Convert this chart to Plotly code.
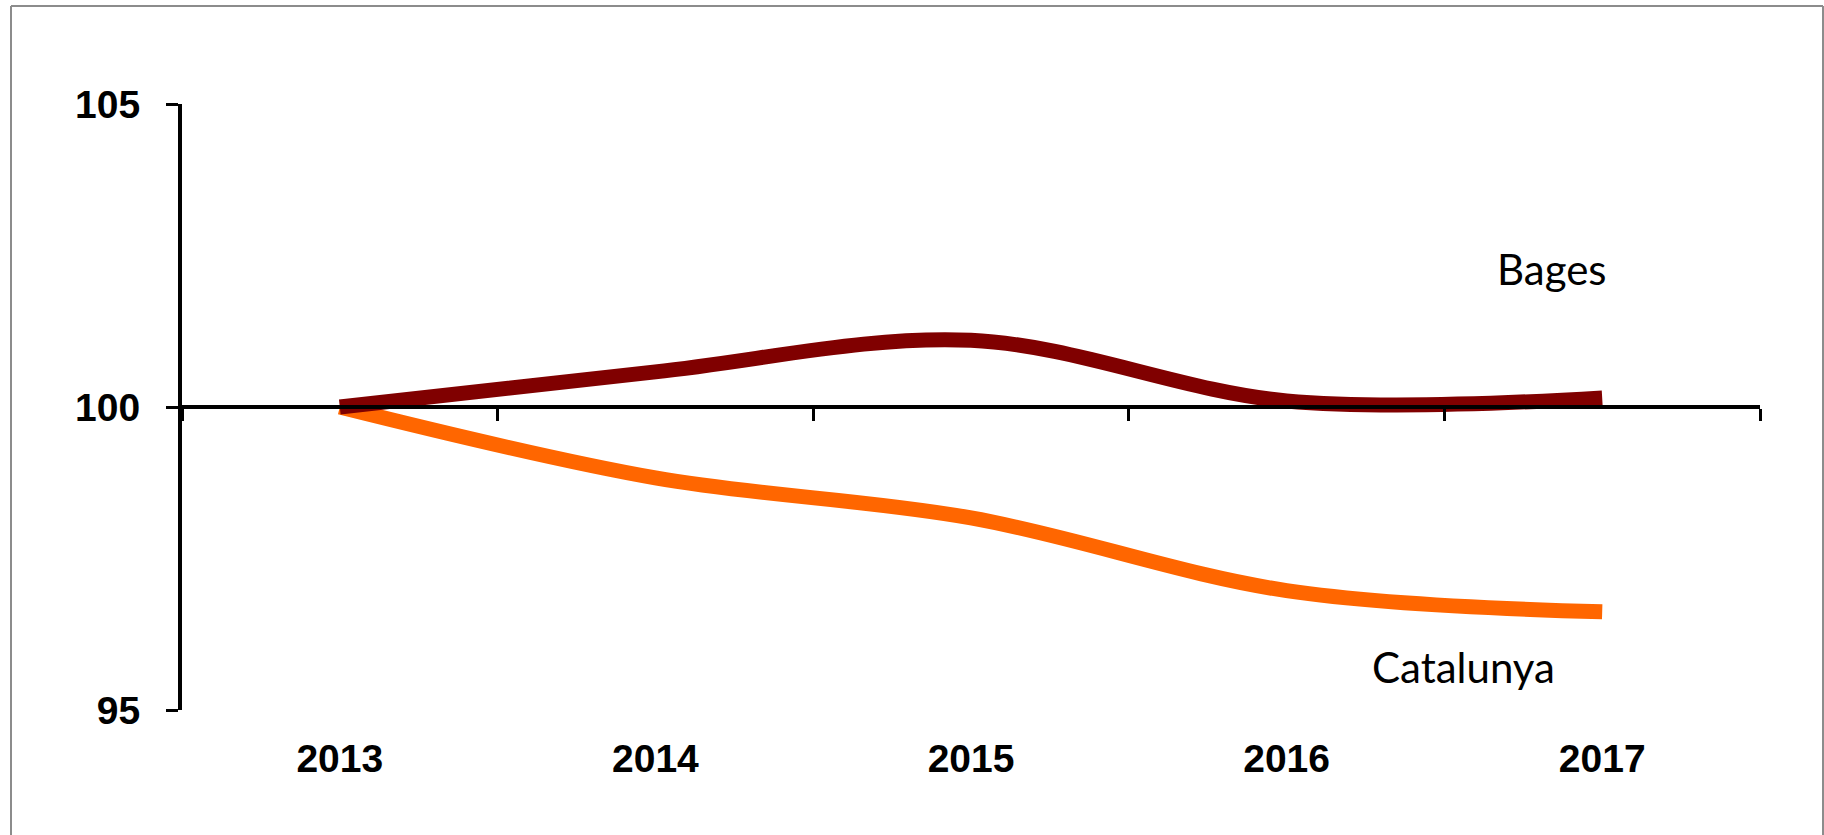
import plotly.graph_objects as go

years = [2013, 2014, 2015, 2016, 2017]
year_labels = ["2013", "2014", "2015", "2016", "2017"]
bages = [100.0, 100.58, 101.1, 100.1, 100.15]
catalunya = [100.0, 98.83, 98.17, 96.97, 96.62]
y_ticks = [95, 100, 105]
boundaries = [2012.5, 2013.5, 2014.5, 2015.5, 2016.5, 2017.5]

W, H = 1824, 835
L, T = 182, 104
R = W - 1760
B = H - 710

fig = go.Figure()
fig.add_trace(go.Scatter(x=years, y=catalunya, mode="lines", name="Catalunya",
                         line=dict(color="#FF6600", width=15, shape="spline", smoothing=1.0),
                         hoverinfo="skip"))
fig.add_trace(go.Scatter(x=years, y=bages, mode="lines", name="Bages", xaxis="x2",
                         line=dict(color="#800000", width=15, shape="spline", smoothing=1.0),
                         hoverinfo="skip"))

fig.update_layout(
    width=W, height=H,
    margin=dict(l=L, r=R, t=T, b=B, pad=0),
    paper_bgcolor="white", plot_bgcolor="white",
    showlegend=False,
    xaxis=dict(range=[2012.5, 2017.5], tickmode="array", tickvals=years, ticktext=year_labels,
               showline=False, showgrid=False, zeroline=False, ticks="",
               tickfont=dict(family="Liberation Sans", size=39, color="black", weight="bold"),
               ticklabelstandoff=22),
    xaxis2=dict(range=[2012.5, 2017.5], overlaying="x", anchor="free", position=0.5,
                tickmode="array", tickvals=boundaries, showticklabels=False,
                showline=True, linecolor="black", linewidth=4,
                ticks="outside", ticklen=12, tickwidth=3, tickcolor="black",
                showgrid=False, zeroline=False),
    yaxis=dict(range=[95, 105], tickmode="array", tickvals=y_ticks,
               showline=True, linecolor="black", linewidth=4,
               ticks="outside", ticklen=12, tickwidth=3, tickcolor="black",
               showgrid=False, zeroline=False,
               tickfont=dict(family="Liberation Sans", size=39, color="black", weight="bold"),
               ticklabelstandoff=18),
)

fig.add_annotation(x=2016.84, y=102.27, xref="x", yref="y", text="Bages", showarrow=False,
                   font=dict(family="Lato", size=42, color="black"), xanchor="center", yanchor="middle")
fig.add_annotation(x=2016.56, y=95.71, xref="x", yref="y", text="Catalunya", showarrow=False,
                   font=dict(family="Lato", size=42, color="black"), xanchor="center", yanchor="middle")

# outer frame (left, top, right edges)
pw, ph = W - L - R, H - T - B
fx0, fx1 = (11 - L) / pw, (1823 - L) / pw
fy_top, fy_bot = (H - B - 6) / ph, (H - B - 835) / ph
for (a, b_, c, d) in [(fx0, fy_bot, fx0, fy_top), (fx0, fy_top, fx1, fy_top), (fx1, fy_top, fx1, fy_bot)]:
    fig.add_shape(type="line", xref="paper", yref="paper", x0=a, y0=b_, x1=c, y1=d,
                  line=dict(color="#8c8c8c", width=2), layer="below")

fig.write_html("out.html", config={"displayModeBar": False},
               post_script="document.body.style.margin='0px';document.body.style.overflow='hidden';")
